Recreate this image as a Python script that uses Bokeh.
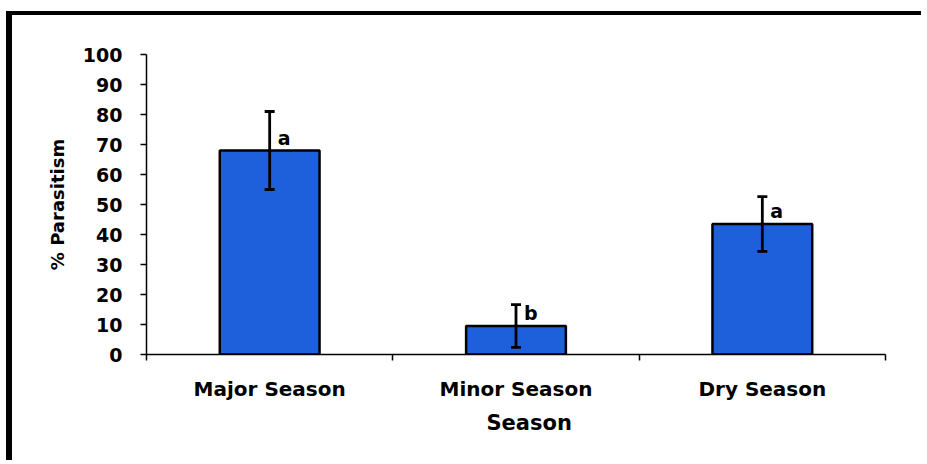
import numpy as np
from bokeh.plotting import figure
from bokeh.models import (ColumnDataSource, Range1d, FixedTicker, Whisker, TeeHead, Title)
from bokeh.core.properties import value
from bokeh.embed import file_html
from bokeh.resources import INLINE

# ---- data ----
seasons = ["Major Season", "Minor Season", "Dry Season"]
parasitism = [68.0, 9.5, 43.5]
std_err = [13.0, 7.1, 9.1]
letters = ["a", "b", "a"]
y_ticks = [0, 10, 20, 30, 40, 50, 60, 70, 80, 90, 100]

FONT = "DejaVu Sans"
BLUE = "#1e5fdc"

centers = list(np.arange(len(seasons)) + 0.5)
bounds = list(np.arange(len(seasons) + 1).astype(float))

src = ColumnDataSource(dict(
    x=centers,
    top=parasitism,
    upper=[m + e for m, e in zip(parasitism, std_err)],
    lower=[m - e for m, e in zip(parasitism, std_err)],
    letter=letters,
))

p = figure(width=915, height=449, output_backend="svg", toolbar_location=None,
           x_range=Range1d(0, len(seasons)), y_range=Range1d(0, 100),
           min_border_left=134, min_border_right=42, min_border_top=39,
           min_border_bottom=110)
p.styles = {"border-left": "6px solid black", "border-top": "4px solid black",
            "margin-top": "11px", "margin-left": "6px"}
p.background_fill_color = "white"
p.border_fill_color = "white"
p.outline_line_color = None
p.xgrid.grid_line_color = None
p.ygrid.grid_line_color = None

p.vbar(x="x", top="top", width=0.405, bottom=0, source=src,
       fill_color=BLUE, line_color="black", line_width=2.5)

wh = Whisker(source=src, base="x", upper="upper", lower="lower",
             line_color="black", line_width=2.8, level="overlay",
             upper_head=TeeHead(size=10, line_width=2.8, line_color="black"),
             lower_head=TeeHead(size=10, line_width=2.8, line_color="black"))
p.add_layout(wh)

p.text(x="x", y="top", text="letter", source=src, x_offset=8, y_offset=-2,
       text_font=value(FONT), text_font_style="bold", text_font_size="19px",
       text_color="black", text_baseline="bottom", text_align="left")

# x axis
xa = p.xaxis[0]
xa.ticker = FixedTicker(ticks=centers, minor_ticks=bounds)
xa.major_label_overrides = {c: s for c, s in zip(centers, seasons)}
xa.major_tick_out = 0
xa.major_tick_in = 0
xa.minor_tick_out = 6
xa.minor_tick_in = 0
xa.minor_tick_line_color = "black"
xa.minor_tick_line_width = 1.5
xa.axis_line_color = "black"
xa.axis_line_width = 1.5
xa.major_label_text_font = FONT
xa.major_label_text_font_style = "bold"
xa.major_label_text_font_size = "20px"
xa.major_label_text_color = "black"
xa.major_label_standoff = 16

p.add_layout(Title(text="Season", align="left", offset=340, standoff=10,
                   text_font=FONT, text_font_style="bold", text_font_size="21px",
                   text_color="black"), "below")

# y axis
ya = p.yaxis[0]
ya.ticker = FixedTicker(ticks=y_ticks)
ya.major_tick_out = 6
ya.major_tick_in = 0
ya.minor_tick_out = 0
ya.minor_tick_in = 0
ya.major_tick_line_color = "black"
ya.major_tick_line_width = 1.5
ya.axis_line_color = "black"
ya.axis_line_width = 1.5
ya.major_label_text_font = FONT
ya.major_label_text_font_style = "bold"
ya.major_label_text_font_size = "19px"
ya.major_label_text_color = "black"
ya.major_label_standoff = 18
ya.axis_label = "% Parasitism"
ya.axis_label_text_font = FONT
ya.axis_label_text_font_style = "bold"
ya.axis_label_text_font_size = "18px"
ya.axis_label_text_color = "black"
ya.axis_label_standoff = 12

open("out.html", "w").write(file_html(p, INLINE))
